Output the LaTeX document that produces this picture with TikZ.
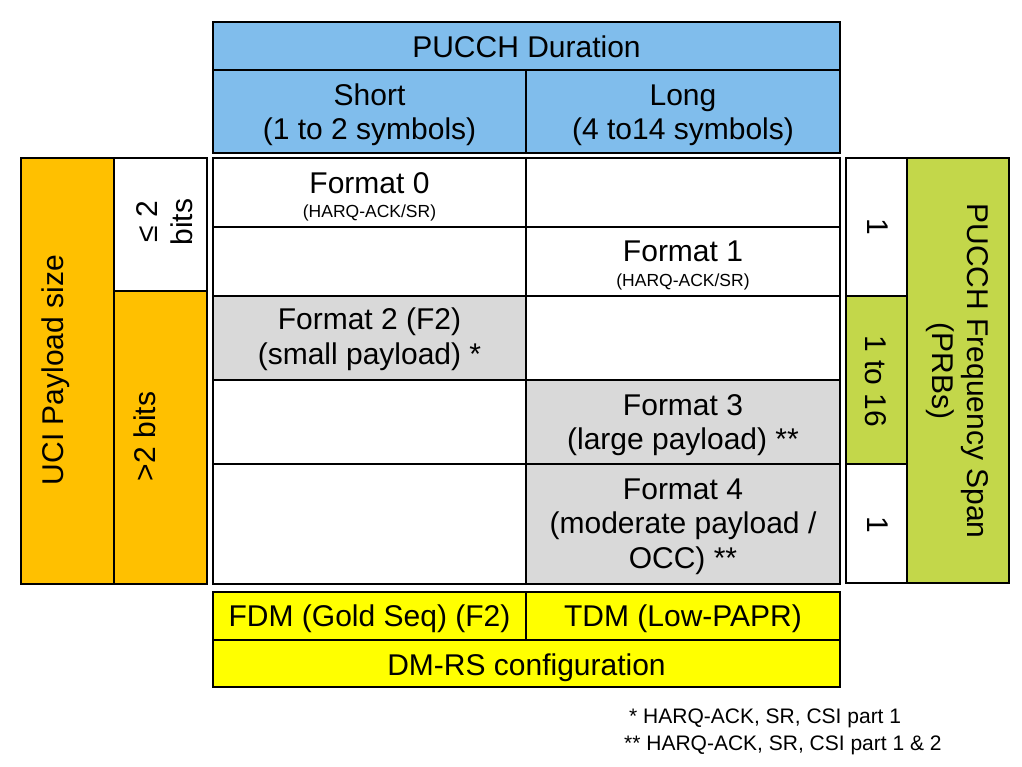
\documentclass[tikz,border=0pt]{standalone}
\usepackage{fontspec}
\setmainfont{Liberation Sans}
\definecolor{hdrblue}{RGB}{128,189,236}
\definecolor{uciorange}{RGB}{255,192,0}
\definecolor{spangreen}{RGB}{195,215,74}
\definecolor{fmtgray}{RGB}{217,217,217}
\definecolor{dmrsyellow}{RGB}{255,255,0}
\newcommand{\mlines}[1]{\begin{tabular}[t]{@{}c@{}}#1\end{tabular}}
\begin{document}
\begin{tikzpicture}[x=1pt,y=-1pt,
  cell/.style={draw=black, line width=2pt, inner sep=0pt, outer sep=0pt},
  txt/.style={inner sep=0pt, anchor=base, font=\fontsize{30}{34.5}\selectfont},
  smalltxt/.style={inner sep=0pt, anchor=base, font=\fontsize{17.5}{20}\selectfont},
  notetxt/.style={inner sep=0pt, anchor=base west, font=\fontsize{21}{24}\selectfont}]
\fill[white] (0,0) rectangle (1022,766);
\useasboundingbox (0,0) rectangle (1022,766);
% header cells
\node[cell, fill=hdrblue, minimum width=627pt, minimum height=48pt] (hdr) at (526.5,46) {};
\node[cell, fill=hdrblue, minimum width=313pt, minimum height=83pt] (short) at (369.5,111.5) {};
\node[cell, fill=hdrblue, minimum width=314pt, minimum height=83pt] (long) at (683,111.5) {};
% grid cells
\node[cell, fill=white, minimum width=313pt, minimum height=69pt] (r1l) at (369.5,192.5) {};
\node[cell, fill=white, minimum width=314pt, minimum height=69pt] (r1r) at (683,192.5) {};
\node[cell, fill=white, minimum width=313pt, minimum height=69pt] (r2l) at (369.5,261.5) {};
\node[cell, fill=white, minimum width=314pt, minimum height=69pt] (r2r) at (683,261.5) {};
\node[cell, fill=fmtgray, minimum width=313pt, minimum height=84pt] (r3l) at (369.5,338) {};
\node[cell, fill=white, minimum width=314pt, minimum height=84pt] (r3r) at (683,338) {};
\node[cell, fill=white, minimum width=313pt, minimum height=84pt] (r4l) at (369.5,422) {};
\node[cell, fill=fmtgray, minimum width=314pt, minimum height=84pt] (r4r) at (683,422) {};
\node[cell, fill=white, minimum width=313pt, minimum height=120pt] (r5l) at (369.5,524) {};
\node[cell, fill=fmtgray, minimum width=314pt, minimum height=120pt] (r5r) at (683,524) {};
% left panel cells
\node[cell, fill=uciorange, minimum width=93pt, minimum height=426pt] (uci) at (67.5,371) {};
\node[cell, fill=white, minimum width=93pt, minimum height=133pt] (le2) at (160.5,224.5) {};
\node[cell, fill=uciorange, minimum width=93pt, minimum height=293pt] (gt2) at (160.5,437.5) {};
% right panel cells
\node[cell, fill=white, minimum width=61pt, minimum height=138pt] (one1) at (876.5,227) {};
\node[cell, fill=spangreen, minimum width=61pt, minimum height=168pt] (range) at (876.5,380) {};
\node[cell, fill=white, minimum width=61pt, minimum height=119pt] (one2) at (876.5,523.5) {};
\node[cell, fill=spangreen, minimum width=102pt, minimum height=425pt] (span) at (958,370.5) {};
% bottom cells
\node[cell, fill=dmrsyellow, minimum width=313pt, minimum height=48pt] (fdm) at (369.5,616) {};
\node[cell, fill=dmrsyellow, minimum width=314pt, minimum height=48pt] (tdm) at (683,616) {};
\node[cell, fill=dmrsyellow, minimum width=627pt, minimum height=47pt] (dmrs) at (526.5,663.5) {};
% texts
\node[txt] (thdr) at (526.5,57) {PUCCH Duration};
\node[txt] (tshort) at (369.5,105) {\mlines{Short\\(1 to 2 symbols)}};
\node[txt] (tlong) at (683,105) {\mlines{Long\\(4 to14 symbols)}};
\node[txt] (f0) at (369.5,193) {Format 0};
\node[smalltxt] (f0s) at (369.5,217) {(HARQ-ACK/SR)};
\node[txt] (f1) at (683,261) {Format 1};
\node[smalltxt] (f1s) at (683,286) {(HARQ-ACK/SR)};
\node[txt] (f2) at (369.5,329.5) {\mlines{Format 2 (F2)\\(small payload) *}};
\node[txt] (f3) at (683,415) {\mlines{Format 3\\(large payload) **}};
\node[txt] (f4) at (683,499) {\mlines{Format 4\\(moderate payload /\\OCC) **}};
\node[txt, rotate=90] (tuci) at (63,370) {UCI Payload size};
\node[txt, rotate=90] (tle2) at (157.5,222) {\mlines{≤ 2\\bits}};
\node[txt, rotate=90] (tgt2) at (155,436.5) {>2 bits};
\node[txt, rotate=-90] (tone1) at (867,227) {1};
\node[txt, rotate=-90] (trange) at (865,381) {1 to 16};
\node[txt, rotate=-90] (tone2) at (867,525) {1};
\node[txt, rotate=-90] (tspan) at (967,371) {\mlines{PUCCH Frequency Span\\(PRBs)}};
\node[txt] (tfdm) at (369.5,626.5) {FDM (Gold Seq) (F2)};
\node[txt] (ttdm) at (683,626.5) {TDM (Low-PAPR)};
\node[txt] (tdmrs) at (526.5,675) {DM-RS configuration};
% notes
\node[notetxt] (n1) at (629,723) {* HARQ-ACK, SR, CSI part 1};
\node[notetxt] (n2) at (624,750) {** HARQ-ACK, SR, CSI part 1 \& 2};
\end{tikzpicture}
\end{document}
